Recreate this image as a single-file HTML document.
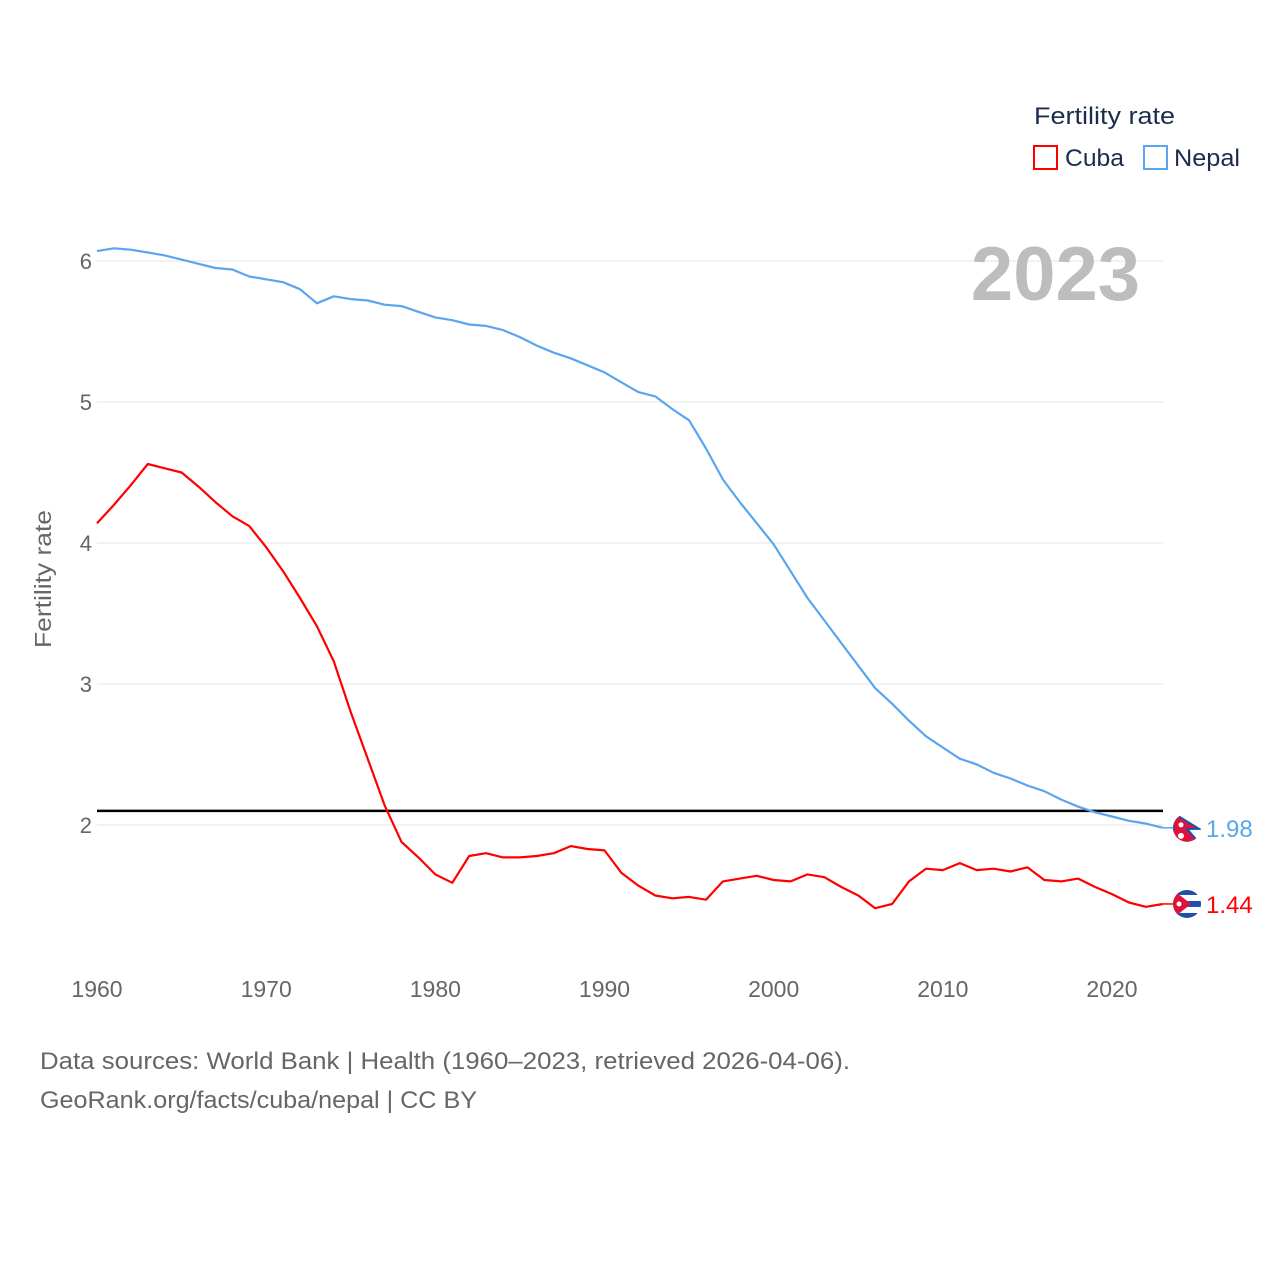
<!DOCTYPE html>
<html><head><meta charset="utf-8"><style>
html,body{margin:0;padding:0;background:#fff;}
svg{display:block;font-family:"Liberation Sans",sans-serif;}
</style></head><body>
<svg id="chart" width="1280" height="1280" viewBox="0 0 1280 1280" xmlns="http://www.w3.org/2000/svg">
<defs>
<clipPath id="clipN"><circle id="clipNc" cx="1187" cy="825" r="14"/></clipPath>
<clipPath id="clipC"><circle id="clipCc" cx="1187" cy="902" r="14"/></clipPath>
</defs>
<g id="grid"></g>
<g id="yticks"></g>
<g id="xticks"></g>
<text transform="translate(51,579) rotate(-90)" text-anchor="middle" font-size="23" fill="#666" textLength="138" lengthAdjust="spacingAndGlyphs">Fertility rate</text>
<text x="1140" y="300" text-anchor="end" font-size="76" font-weight="bold" fill="#bdbdbd">2023</text>
<g id="series"></g>
<g>
<text x="1034" y="124" font-size="24" fill="#1d2b4c" textLength="141" lengthAdjust="spacingAndGlyphs">Fertility rate</text>
<g><rect x="1034" y="146" width="23" height="23" fill="none" stroke="#ff0000" stroke-width="2"/><text x="1065" y="166" font-size="24" fill="#1d2b4c" textLength="59" lengthAdjust="spacingAndGlyphs">Cuba</text></g>
<g><rect x="1144" y="146" width="23" height="23" fill="none" stroke="#5aa5ef" stroke-width="2"/><text x="1174" y="166" font-size="24" fill="#1d2b4c" textLength="66" lengthAdjust="spacingAndGlyphs">Nepal</text></g>
</g>
<text x="40" y="1069" font-size="24" fill="#666" textLength="810" lengthAdjust="spacingAndGlyphs">Data sources: World Bank | Health (1960–2023, retrieved 2026-04-06).</text>
<text x="40" y="1108" font-size="24" fill="#666" textLength="437" lengthAdjust="spacingAndGlyphs">GeoRank.org/facts/cuba/nepal | CC BY</text>
</svg>
<script>
const years = [];
for (let y = 1960; y <= 2023; y++) years.push(y);
const nepal = [6.07,6.09,6.08,6.06,6.04,6.01,5.98,5.95,5.94,5.89,5.87,5.85,5.80,5.70,5.75,5.73,5.72,5.69,5.68,5.64,5.60,5.58,5.55,5.54,5.51,5.46,5.40,5.35,5.31,5.26,5.21,5.14,5.07,5.04,4.95,4.87,4.67,4.45,4.29,4.14,3.99,3.80,3.61,3.45,3.29,3.13,2.97,2.86,2.74,2.63,2.55,2.47,2.43,2.37,2.33,2.28,2.24,2.18,2.13,2.09,2.06,2.03,2.01,1.98];
const cuba = [4.14,4.27,4.41,4.56,4.53,4.50,4.40,4.29,4.19,4.12,3.97,3.80,3.61,3.41,3.16,2.80,2.47,2.14,1.88,1.77,1.65,1.59,1.78,1.80,1.77,1.77,1.78,1.80,1.85,1.83,1.82,1.66,1.57,1.50,1.48,1.49,1.47,1.60,1.62,1.64,1.61,1.60,1.65,1.63,1.56,1.50,1.41,1.44,1.60,1.69,1.68,1.73,1.68,1.69,1.67,1.70,1.61,1.60,1.62,1.56,1.51,1.45,1.42,1.44];
const yTicks = [2,3,4,5,6];
const xTicks = [1960,1970,1980,1990,2000,2010,2020];
const replacement = [2.1];

const NS = "http://www.w3.org/2000/svg";
const X0 = 97, X1 = 1163;
function xs(yr){ return X0 + (yr - 1960) * (1015 / 60); }
function ys(v){ return 825 - (v - 2) * 141; }
function mk(tag, attrs, parent){ const e = document.createElementNS(NS, tag); for (const k in attrs) e.setAttribute(k, attrs[k]); parent.appendChild(e); return e; }

const grid = document.getElementById('grid');
const yt = document.getElementById('yticks');
yTicks.forEach(v => {
  const l = mk('line', {x1:X0, x2:X1, y1:ys(v), y2:ys(v), stroke:'#e6e6e6', 'stroke-width':1}, grid);
  
  
  const t = mk('text', {x:92, y:ys(v)+8, 'text-anchor':'end', 'font-size':22, fill:'#666'}, yt);
  t.textContent = v;
  
  
});
const xt = document.getElementById('xticks');
xTicks.forEach(yr => {
  const t = mk('text', {x:xs(yr), y:997, 'text-anchor':'middle', 'font-size':23, fill:'#666'}, xt);
  t.textContent = yr;
  
  
});

const ser = document.getElementById('series');
const rl = mk('line', {x1:X0, x2:X1, y1:ys(replacement[0]), y2:ys(replacement[0]), stroke:'#000', 'stroke-width':2.5}, ser);



function drawLine(vals, color, name){
  const d = vals.map((v,i) => (i ? 'L' : 'M') + xs(years[i]).toFixed(1) + ',' + ys(v).toFixed(1)).join(' ');
  const p = mk('path', {d:d, fill:'none', stroke:color, 'stroke-width':2.2, 'stroke-linejoin':'round'}, ser);
  
  
  const last = vals[vals.length-1];
  const cy = ys(last);
  const c = mk('line', {x1:X1, x2:1175, y1:cy, y2:cy, stroke:color, 'stroke-width':1.5}, ser);
  
  
  const t = mk('text', {x:1206, y:cy+9, 'font-size':24, fill:color}, ser);
  t.textContent = last.toFixed(2);
  
  
  return cy;
}
const ny = drawLine(nepal, '#5aa5ef', 'nepal');
const cy = drawLine(cuba, '#ff0000', 'cuba');
document.getElementById('clipNc').setAttribute('cy', ny);
document.getElementById('clipCc').setAttribute('cy', cy);

const nf = mk('g', {'clip-path':'url(#clipN)'}, ser);


mk('rect', {x:1170, y:ny-16, width:34, height:32, fill:'#fff'}, nf);
mk('path', {d:`M1173 ${ny-15} L1199 ${ny+1} L1187 ${ny+1} L1199 ${ny+15} L1173 ${ny+15} Z`, fill:'#dc143c', stroke:'#1f4fa8', 'stroke-width':2}, nf);
mk('circle', {cx:1181, cy:ny-3, r:2.5, fill:'#fff'}, nf);
mk('circle', {cx:1181, cy:ny+8, r:3, fill:'#fff'}, nf);

const cf = mk('g', {'clip-path':'url(#clipC)'}, ser);


mk('rect', {x:1170, y:cy-16, width:34, height:32, fill:'#fff'}, cf);
mk('rect', {x:1170, y:cy-16, width:34, height:7, fill:'#1f4fa8'}, cf);
mk('rect', {x:1170, y:cy-3, width:34, height:6, fill:'#1f4fa8'}, cf);
mk('rect', {x:1170, y:cy+9, width:34, height:7, fill:'#1f4fa8'}, cf);
mk('path', {d:`M1172 ${cy-15} L1191 ${cy} L1172 ${cy+15} Z`, fill:'#dc143c'}, cf);
mk('circle', {cx:1179, cy:cy, r:2.5, fill:'#fff'}, cf);
</script>
</body></html>
